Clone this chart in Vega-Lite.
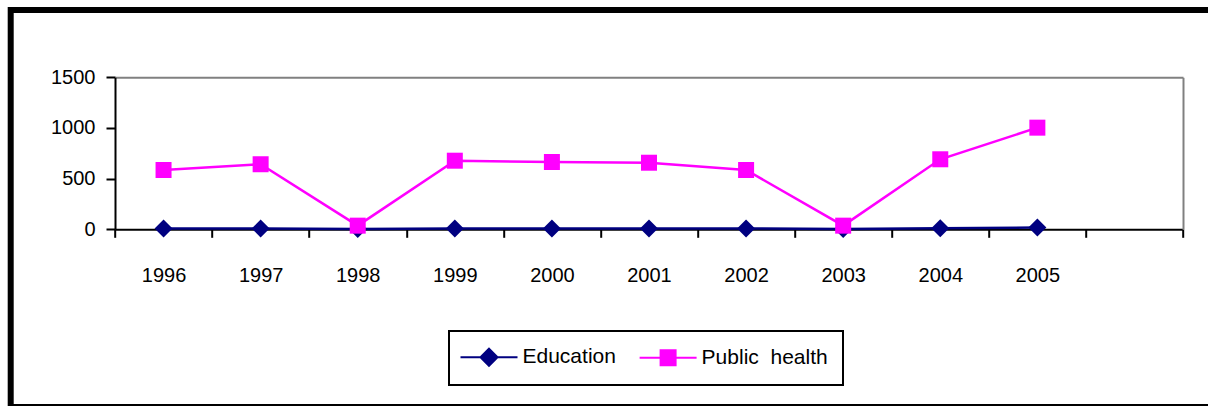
{
  "$schema": "https://vega.github.io/schema/vega-lite/v6.json",
  "width": 1210,
  "height": 397,
  "autosize": {"type": "none"},
  "padding": {"left": 10.7, "top": 10, "right": -12.7, "bottom": -1},
  "background": "white",
  "config": {
    "view": {"stroke": "black", "strokeWidth": 6},
    "font": "Liberation Sans",
    "axis": {"labelFont": "Liberation Sans", "labelFontSize": 20, "labelColor": "black", "domainColor": "black", "tickColor": "black", "grid": false, "title": null}
  },
  "data": {
    "values": [
      {"year": "1996", "series": "Education", "value": 8},
      {"year": "1997", "series": "Education", "value": 8},
      {"year": "1998", "series": "Education", "value": 2},
      {"year": "1999", "series": "Education", "value": 8},
      {"year": "2000", "series": "Education", "value": 8},
      {"year": "2001", "series": "Education", "value": 8},
      {"year": "2002", "series": "Education", "value": 8},
      {"year": "2003", "series": "Education", "value": 2},
      {"year": "2004", "series": "Education", "value": 10},
      {"year": "2005", "series": "Education", "value": 18},
      {"year": "1996", "series": "Public health", "value": 585},
      {"year": "1997", "series": "Public health", "value": 642},
      {"year": "1998", "series": "Public health", "value": 36},
      {"year": "1999", "series": "Public health", "value": 677},
      {"year": "2000", "series": "Public health", "value": 664},
      {"year": "2001", "series": "Public health", "value": 657},
      {"year": "2002", "series": "Public health", "value": 585},
      {"year": "2003", "series": "Public health", "value": 36},
      {"year": "2004", "series": "Public health", "value": 691},
      {"year": "2005", "series": "Public health", "value": 1003}
    ]
  },
  "layer": [
    {
      "mark": {"type": "line", "strokeWidth": 2.5},
      "encoding": {
        "x": {
          "field": "year", "type": "ordinal",
          "scale": {"type": "band", "domain": ["1996","1997","1998","1999","2000","2001","2002","2003","2004","2005"," "], "range": [104.3, 1172.3], "paddingInner": 0, "paddingOuter": 0},
          "axis": {"orient": "bottom", "offset": -177.7, "tickBand": "extent", "labelAngle": 0, "domainWidth": 2, "tickWidth": 2, "tickSize": 8, "labelPadding": 28, "title": null}
        },
        "y": {
          "field": "value", "type": "quantitative",
          "scale": {"domain": [0, 1500], "range": [219.3, 67.3], "nice": false},
          "axis": {"orient": "left", "offset": -104.3, "values": [0, 500, 1000, 1500], "format": "d", "domainWidth": 2, "tickWidth": 2, "tickSize": 9, "labelPadding": 11, "title": null}
        },
        "color": {
          "field": "series", "type": "nominal",
          "scale": {"domain": ["Education", "Public health"], "range": ["#000080", "#FF00FF"]},
          "legend": {
            "orient": "none", "legendX": 438.3, "legendY": 321, "direction": "horizontal", "title": null,
            "padding": 15, "strokeColor": "black",
            "labelFont": "Liberation Sans", "labelFontSize": 21, "labelColor": "black",
            "labelExpr": "datum.label === 'Public health' ? 'Public\u00a0\u00a0health' : datum.label",
            "labelOffset": 36.5, "columnPadding": 19.1, "symbolSize": 400, "symbolStrokeWidth": 2,
            "encode": {
              "symbols": {"update": {
                "shape": {"signal": "datum.value === 'Education' ? 'M-1.45,0L4.25,0M1.4,-0.85L2.25,0L1.4,0.85L0.55,0Z' : 'M-1.45,0L4.25,0M0.65,-0.75H2.15V0.75H0.65Z'"},
                "fill": {"scale": "color", "field": "value"},
                "stroke": {"scale": "color", "field": "value"},
                "strokeWidth": {"value": 2},
                "size": {"value": 400},
                "opacity": {"value": 1},
                "fillOpacity": {"value": 1}
              }},
              "legend": {"update": {"stroke": {"value": "black"}, "strokeWidth": {"value": 2}}}
            }
          }
        }
      }
    },
    {
      "transform": [{"filter": "datum.series === 'Education'"}],
      "mark": {"type": "point", "filled": true, "opacity": 1, "shape": "diamond", "size": 324, "fill": "#000080"},
      "encoding": {
        "x": {
          "field": "year", "type": "ordinal",
          "axis": {"orient": "top", "offset": -67.3, "labels": false, "ticks": false, "domainColor": "#808080", "domainWidth": 2, "title": null}
        },
        "y": {
          "field": "value", "type": "quantitative",
          "axis": {"orient": "right", "offset": -37.7, "labels": false, "ticks": false, "domainColor": "#808080", "domainWidth": 2, "title": null}
        }
      }
    },
    {
      "transform": [{"filter": "datum.series === 'Public health'"}],
      "mark": {"type": "point", "filled": true, "opacity": 1, "shape": "square", "size": 256, "fill": "#FF00FF"},
      "encoding": {
        "x": {"field": "year", "type": "ordinal", "axis": null},
        "y": {"field": "value", "type": "quantitative", "axis": null}
      }
    }
  ],
  "resolve": {"axis": {"x": "independent", "y": "independent"}}
}
